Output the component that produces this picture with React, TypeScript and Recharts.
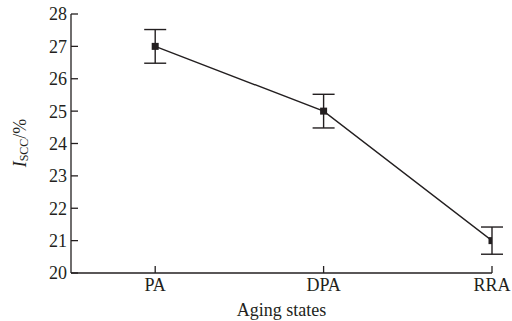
import { LineChart, Line, XAxis, YAxis, ErrorBar } from 'recharts';

const states = ['PA', 'DPA', 'RRA'];
const iscc = [27, 25, 21];
const errs = [0.52, 0.52, 0.42];
const yTicks = [20, 21, 22, 23, 24, 25, 26, 27, 28];

const data = states.map((s, i) => ({ idx: i, name: s, value: iscc[i], err: errs[i] }));

const INK = '#231f20';
const FONT = '"Liberation Serif", "Times New Roman", serif';

const SquareDot = (props: any) => {
  const { cx, cy } = props;
  if (cx == null || cy == null) return null;
  return <rect x={cx - 3.5} y={cy - 3.5} width={7} height={7} fill={INK} />;
};

const YLabel = () => (
  <text
    x={20}
    y={143}
    transform="rotate(-90 20 143)"
    textAnchor="middle"
    dominantBaseline="central"
    fontFamily={FONT}
    fontSize={18}
    fill={INK}
  >
    <tspan fontStyle="italic">I</tspan>
    <tspan fontSize={12} dy={4}>SCC</tspan>
    <tspan dy={-4}>/%</tspan>
  </text>
);

export default function App() {
  return (
    <div style={{ position: 'absolute', left: 0, top: 0, width: 512, height: 321, background: '#fff' }}>
      <LineChart width={512} height={321} data={data} margin={{ top: 14, right: 20, bottom: 0, left: 0 }}>
        <XAxis
          type="number"
          dataKey="idx"
          domain={[-0.5, 2]}
          ticks={[0, 1, 2]}
          tickFormatter={(v: number) => states[v]}
          height={48}
          stroke={INK}
          strokeWidth={1.3}
          tickSize={-7}
          tickMargin={12}
          tick={{ fill: INK, fontSize: 18, fontFamily: FONT }}
          label={{ value: 'Aging states', position: 'insideBottom', offset: 5, fill: INK, fontSize: 18, fontFamily: FONT }}
          allowDataOverflow
        />
        <YAxis
          type="number"
          domain={[20, 28]}
          ticks={yTicks}
          width={71}
          stroke={INK}
          strokeWidth={1.3}
          tickSize={-7}
          tickMargin={11}
          interval={0}
          tick={{ fill: INK, fontSize: 18, fontFamily: FONT }}
          label={{ content: () => <YLabel /> }}
        />
        <Line
          type="linear"
          dataKey="value"
          stroke={INK}
          strokeWidth={1.4}
          dot={<SquareDot />}
          activeDot={false}
          isAnimationActive={false}
        >
          <ErrorBar dataKey="err" width={11} stroke={INK} strokeWidth={1.4} direction="y" />
        </Line>
      </LineChart>
    </div>
  );
}
